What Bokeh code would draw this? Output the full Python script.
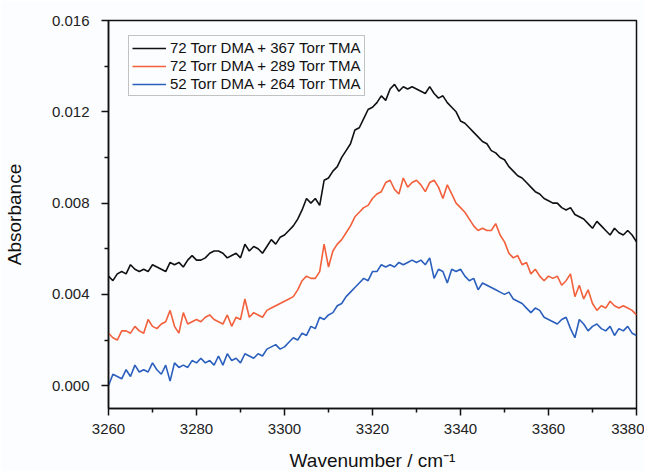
from bokeh.plotting import figure
from bokeh.models import FixedTicker, NumeralTickFormatter, Legend, LegendItem, Range1d
from bokeh.embed import file_html
from bokeh.resources import INLINE

wavenumber = list(range(3260, 3381))

abs_72_367 = [
    0.0048, 0.0046, 0.0049, 0.0050, 0.0049, 0.0053, 0.0051, 0.0050, 0.0051, 0.0050,
    0.0053, 0.0052, 0.0051, 0.0050, 0.0054, 0.0053, 0.0054, 0.0052, 0.0055, 0.0057,
    0.0055, 0.0055, 0.0056, 0.0058, 0.0059, 0.0059, 0.0058, 0.0056, 0.0057, 0.0058,
    0.0056, 0.0062, 0.0059, 0.0061, 0.0060, 0.0058, 0.0061, 0.0064, 0.0062, 0.0065,
    0.0066, 0.0068, 0.0070, 0.0073, 0.0077, 0.0082, 0.0080, 0.0082, 0.0079, 0.0090,
    0.0091, 0.0094, 0.0096, 0.0100, 0.0103, 0.0106, 0.0112, 0.0113, 0.0117, 0.0121,
    0.0122, 0.0124, 0.0127, 0.0125, 0.0130, 0.0132, 0.0129, 0.0131, 0.0130, 0.0131,
    0.0130, 0.0129, 0.0128, 0.0131, 0.0128, 0.0126, 0.0127, 0.0124, 0.0122, 0.0120,
    0.0116, 0.0115, 0.0113, 0.0111, 0.0109, 0.0107, 0.0106, 0.0103, 0.0102, 0.0100,
    0.0099, 0.0096, 0.0094, 0.0092, 0.0091, 0.0089, 0.0087, 0.0085, 0.0084, 0.0082,
    0.0081, 0.0080, 0.0080, 0.0078, 0.0077, 0.0078, 0.0075, 0.0074, 0.0073, 0.0071,
    0.0069, 0.0072, 0.0070, 0.0068, 0.0066, 0.0069, 0.0067, 0.0066, 0.0068, 0.0066,
    0.0063,
]

abs_72_289 = [
    0.0023, 0.0021, 0.0020, 0.0024, 0.0024, 0.0023, 0.0026, 0.0024, 0.0023, 0.0029,
    0.0026, 0.0025, 0.0027, 0.0028, 0.0033, 0.0026, 0.0023, 0.0032, 0.0027, 0.0028,
    0.0029, 0.0028, 0.0030, 0.0031, 0.0029, 0.0028, 0.0027, 0.0031, 0.0026, 0.0030,
    0.0029, 0.0038, 0.0030, 0.0032, 0.0031, 0.0030, 0.0033, 0.0034, 0.0035, 0.0036,
    0.0037, 0.0038, 0.0039, 0.0042, 0.0046, 0.0048, 0.0047, 0.0047, 0.0050, 0.0062,
    0.0052, 0.0059, 0.0062, 0.0064, 0.0067, 0.0070, 0.0074, 0.0076, 0.0078, 0.0079,
    0.0082, 0.0084, 0.0085, 0.0089, 0.0090, 0.0086, 0.0084, 0.0091, 0.0087, 0.0089,
    0.0090, 0.0088, 0.0085, 0.0089, 0.0090, 0.0087, 0.0082, 0.0088, 0.0084, 0.0080,
    0.0078, 0.0076, 0.0073, 0.0070, 0.0068, 0.0069, 0.0068, 0.0068, 0.0071, 0.0066,
    0.0063, 0.0058, 0.0056, 0.0057, 0.0053, 0.0054, 0.0049, 0.0051, 0.0048, 0.0046,
    0.0048, 0.0047, 0.0048, 0.0044, 0.0046, 0.0049, 0.0039, 0.0044, 0.0038, 0.0042,
    0.0036, 0.0033, 0.0035, 0.0034, 0.0037, 0.0035, 0.0034, 0.0035, 0.0034, 0.0033,
    0.0031,
]

abs_52_264 = [
    0.0000, 0.0005, 0.0004, 0.0003, 0.0007, 0.0004, 0.0009, 0.0006, 0.0007, 0.0006,
    0.0010, 0.0007, 0.0005, 0.0009, 0.0002, 0.0010, 0.0008, 0.0009, 0.0008, 0.0011,
    0.0010, 0.0012, 0.0010, 0.0011, 0.0009, 0.0013, 0.0009, 0.0014, 0.0011, 0.0012,
    0.0010, 0.0014, 0.0013, 0.0012, 0.0014, 0.0013, 0.0016, 0.0017, 0.0018, 0.0016,
    0.0017, 0.0019, 0.0021, 0.0020, 0.0023, 0.0022, 0.0026, 0.0025, 0.0030, 0.0029,
    0.0031, 0.0032, 0.0035, 0.0036, 0.0039, 0.0041, 0.0043, 0.0045, 0.0047, 0.0046,
    0.0050, 0.0050, 0.0053, 0.0052, 0.0053, 0.0052, 0.0054, 0.0053, 0.0054, 0.0055,
    0.0054, 0.0055, 0.0053, 0.0056, 0.0047, 0.0051, 0.0050, 0.0045, 0.0051, 0.0050,
    0.0051, 0.0048, 0.0046, 0.0047, 0.0042, 0.0045, 0.0044, 0.0043, 0.0042, 0.0041,
    0.0040, 0.0041, 0.0038, 0.0037, 0.0036, 0.0034, 0.0032, 0.0034, 0.0033, 0.0030,
    0.0029, 0.0028, 0.0027, 0.0029, 0.0030, 0.0025, 0.0021, 0.0029, 0.0027, 0.0024,
    0.0026, 0.0027, 0.0025, 0.0024, 0.0026, 0.0022, 0.0025, 0.0024, 0.0026, 0.0023,
    0.0022,
]

series_labels = [
    "72 Torr DMA + 367 Torr TMA",
    "72 Torr DMA + 289 Torr TMA",
    "52 Torr DMA + 264 Torr TMA",
]
series_colors = ["#111111", "#f2603c", "#2b5fbd"]

x_ticks = [3260, 3280, 3300, 3320, 3340, 3360, 3380]
x_minor = [3270, 3290, 3310, 3330, 3350, 3370]
y_ticks = [0.000, 0.004, 0.008, 0.012, 0.016]
y_minor = [0.002, 0.006, 0.010, 0.014]

FONT = "Liberation Sans"
BG = "#fcfdff"

p = figure(
    frame_width=528, frame_height=388,
    min_border_left=107, min_border_right=8, min_border_top=20, min_border_bottom=10,
    x_range=Range1d(3260, 3380), y_range=Range1d(-0.001, 0.016),
    output_backend="svg", toolbar_location=None,
    background_fill_color=BG, border_fill_color=BG,
)
p.grid.visible = False
p.outline_line_color = "#111111"
p.outline_line_width = 1.5

series = [abs_72_367, abs_72_289, abs_52_264]
renderers = []
for ys, c in zip(series, series_colors):
    r = p.line(wavenumber, ys, line_color=c, line_width=1.6)
    renderers.append(r)

p.xaxis.ticker = FixedTicker(ticks=x_ticks, minor_ticks=x_minor)
p.yaxis.ticker = FixedTicker(ticks=y_ticks, minor_ticks=y_minor)
p.yaxis.formatter = NumeralTickFormatter(format="0.000")

for ax in (p.xaxis[0], p.yaxis[0]):
    ax.axis_line_color = "#111111"
    ax.axis_line_width = 1.5
    ax.major_tick_line_color = "#111111"
    ax.major_tick_line_width = 1.5
    ax.minor_tick_line_color = "#111111"
    ax.minor_tick_line_width = 1.5
    ax.major_tick_out = 7
    ax.major_tick_in = 0
    ax.minor_tick_out = 4
    ax.minor_tick_in = 0
    ax.major_label_text_font = FONT
    ax.major_label_text_font_size = "15px"
    ax.major_label_text_color = "#222222"
    ax.axis_label_text_font = FONT
    ax.axis_label_text_font_size = "19px"
    ax.axis_label_text_font_style = "normal"
    ax.axis_label_text_color = "#111111"

p.xaxis.axis_label = "Wavenumber / cm\u207b\u00b9"
p.yaxis.axis_label = "Absorbance"
p.xaxis.major_label_standoff = 8
p.xaxis.axis_label_standoff = 13
p.yaxis.major_label_standoff = 12
p.yaxis.axis_label_standoff = 24

items = [LegendItem(label=l, renderers=[r]) for l, r in zip(series_labels, renderers)]
legend = Legend(
    items=items, location=(20, 312),
    glyph_width=34, glyph_height=16, label_height=16, spacing=1, padding=3,
    label_standoff=4, margin=0,
    label_text_font=FONT, label_text_font_size="15px", label_text_color="#111111",
    border_line_color="#888888", border_line_width=1,
    background_fill_color=BG, background_fill_alpha=1.0,
)
p.add_layout(legend, "center")

open("out.html", "w").write(file_html(p, INLINE))
